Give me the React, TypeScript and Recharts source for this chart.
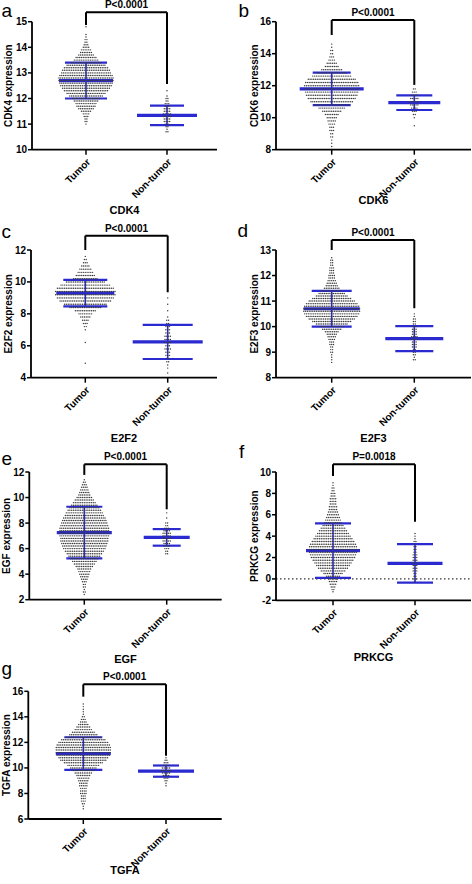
import React from 'react';
import { ScatterChart, Scatter, XAxis, YAxis, ReferenceLine } from 'recharts';

const FONT = '"Liberation Sans", Arial, Helvetica, sans-serif';
const BLUE = '#2a2ad0';
const DOT_STEP = 1.8; // px between neighbouring dots in a swarm row

const groups = ['Tumor', 'Non-tumor'];

// [expression level, number of samples at that level]
const cdk4Tumor: [number, number][] = [
  [14.8, 1], [14.5, 1], [14.4, 1], [14.3, 2], [14.2, 2], [14.1, 3], [14.0, 4], [13.9, 6], [13.8, 7],
  [13.7, 9], [13.6, 12], [13.5, 14], [13.4, 17], [13.3, 22], [13.2, 25], [13.1, 27], [13.0, 28],
  [12.9, 30], [12.8, 31], [12.7, 31], [12.6, 30], [12.5, 29], [12.4, 27], [12.3, 25], [12.2, 22],
  [12.1, 19], [12.0, 16], [11.9, 14], [11.8, 12], [11.7, 11], [11.6, 9], [11.5, 6], [11.4, 4],
  [11.3, 3], [11.2, 2], [11.1, 2], [11.0, 1],
];
const cdk4Normal: [number, number][] = [
  [12.3, 1], [12.1, 1], [12.0, 2], [11.9, 2], [11.8, 3], [11.7, 3], [11.6, 4], [11.5, 4], [11.4, 5],
  [11.3, 5], [11.2, 4], [11.1, 4], [11.0, 3], [10.9, 2], [10.8, 1], [10.7, 2],
];
const cdk4Mean = [12.7, 11.34];
const cdk4Sd = [0.7, 0.38];
const cdk4Bracket = [15.37, 14.87, 12.57];
const cdk4Ticks = [10, 11, 12, 13, 14, 15];

const cdk6Tumor: [number, number][] = [
  [14.6, 1], [14.4, 1], [14.2, 2], [14.0, 2], [13.8, 3], [13.6, 4], [13.4, 6], [13.2, 8], [13.0, 12],
  [12.8, 17], [12.6, 22], [12.4, 27], [12.2, 30], [12.0, 31], [11.8, 31], [11.6, 30], [11.4, 29],
  [11.2, 27], [11.0, 24], [10.8, 20], [10.6, 15], [10.4, 11], [10.2, 8], [10.0, 6], [9.8, 5],
  [9.6, 4], [9.4, 3], [9.2, 3], [9.0, 2], [8.8, 2], [8.6, 1], [8.4, 1], [8.2, 1],
];
const cdk6Normal: [number, number][] = [
  [11.8, 2], [11.6, 3], [11.4, 4], [11.2, 5], [11.0, 6], [10.8, 5], [10.6, 4], [10.4, 3], [10.2, 2],
  [10.0, 1], [9.5, 1],
];
const cdk6Mean = [11.8, 10.94];
const cdk6Sd = [1.02, 0.46];
const cdk6Bracket = [16.1, 15.17, 12.05];
const cdk6Ticks = [8, 10, 12, 14, 16];

const e2f2Tumor: [number, number][] = [
  [11.6, 1], [11.4, 2], [11.2, 3], [11.0, 5], [10.8, 7], [10.6, 9], [10.4, 11], [10.2, 14], [10.0, 22],
  [9.8, 28], [9.6, 32], [9.4, 34], [9.2, 34], [9.0, 32], [8.8, 29], [8.6, 24], [8.4, 18], [8.2, 12],
  [8.0, 8], [7.8, 6], [7.6, 4], [7.4, 3], [7.2, 2], [7.0, 1], [6.2, 1], [4.9, 1],
];
const e2f2Normal: [number, number][] = [
  [9.0, 1], [8.6, 1], [8.2, 1], [7.8, 1], [7.6, 2], [7.4, 2], [7.2, 3], [7.0, 3], [6.8, 3], [6.6, 4],
  [6.4, 4], [6.2, 4], [6.0, 3], [5.8, 4], [5.6, 3], [5.4, 3], [5.2, 2], [5.0, 2], [4.8, 1], [4.6, 1],
  [4.3, 1],
];
const e2f2Mean = [9.3, 6.24];
const e2f2Sd = [0.83, 1.07];
const e2f2Bracket = [12.9, 12.0, 9.35];
const e2f2Ticks = [4, 6, 8, 10, 12];

const e2f3Tumor: [number, number][] = [
  [12.7, 1], [12.6, 2], [12.5, 2], [12.4, 2], [12.3, 3], [12.2, 3], [12.1, 3], [12.0, 4], [11.9, 4],
  [11.8, 5], [11.7, 6], [11.6, 7], [11.5, 9], [11.4, 12], [11.3, 15], [11.2, 18], [11.1, 22],
  [11.0, 26], [10.9, 29], [10.8, 31], [10.7, 32], [10.6, 32], [10.5, 31], [10.4, 29], [10.3, 26],
  [10.2, 22], [10.1, 18], [10.0, 14], [9.9, 11], [9.8, 8], [9.7, 6], [9.6, 5], [9.5, 4], [9.4, 3],
  [9.3, 3], [9.2, 2], [9.1, 2], [9.0, 2], [8.9, 1], [8.8, 1], [8.7, 1], [8.6, 1],
];
const e2f3Normal: [number, number][] = [
  [10.5, 1], [10.4, 1], [10.3, 2], [10.2, 2], [10.1, 2], [10.0, 3], [9.9, 3], [9.8, 3], [9.7, 3],
  [9.6, 4], [9.5, 4], [9.4, 3], [9.3, 3], [9.2, 3], [9.1, 2], [9.0, 2], [8.9, 2], [8.8, 1], [8.7, 2],
];
const e2f3Mean = [10.7, 9.53];
const e2f3Sd = [0.7, 0.49];
const e2f3Bracket = [13.39, 13.0, 10.72];
const e2f3Ticks = [8, 9, 10, 11, 12, 13];

const egfTumor: [number, number][] = [
  [11.4, 1], [11.2, 2], [11.0, 3], [10.8, 4], [10.6, 5], [10.4, 6], [10.2, 7], [10.0, 9], [9.8, 11],
  [9.6, 13], [9.4, 15], [9.2, 17], [9.0, 19], [8.8, 21], [8.6, 22], [8.4, 24], [8.2, 25], [8.0, 26],
  [7.8, 27], [7.6, 28], [7.4, 28], [7.2, 28], [7.0, 28], [6.8, 27], [6.6, 27], [6.4, 26], [6.2, 25],
  [6.0, 24], [5.8, 22], [5.6, 20], [5.4, 18], [5.2, 16], [5.0, 14], [4.8, 12], [4.6, 10], [4.4, 8],
  [4.2, 7], [4.0, 6], [3.8, 5], [3.6, 4], [3.4, 3], [3.2, 2], [3.0, 2], [2.8, 1], [2.6, 2], [2.4, 1],
];
const egfNormal: [number, number][] = [
  [8.8, 1], [8.4, 1], [8.0, 2], [7.8, 2], [7.6, 3], [7.4, 4], [7.2, 5], [7.0, 5], [6.8, 5], [6.6, 5],
  [6.4, 4], [6.2, 4], [6.0, 3], [5.8, 2], [5.6, 2],
];
const egfMean = [7.26, 6.88];
const egfSd = [2.02, 0.65];
const egfBracket = [12.6, 11.77, 9.08];
const egfTicks = [2, 4, 6, 8, 10, 12];

const prkcgTumor: [number, number][] = [
  [9.0, 1], [8.75, 1], [8.5, 2], [8.25, 2], [8.0, 3], [7.75, 3], [7.5, 4], [7.25, 4], [7.0, 4],
  [6.75, 5], [6.5, 5], [6.25, 6], [6.0, 7], [5.75, 8], [5.5, 9], [5.25, 10], [5.0, 12], [4.75, 14],
  [4.5, 16], [4.25, 18], [4.0, 20], [3.75, 22], [3.5, 24], [3.25, 26], [3.0, 27], [2.75, 27],
  [2.5, 27], [2.25, 26], [2.0, 25], [1.75, 23], [1.5, 21], [1.25, 19], [1.0, 17], [0.75, 14],
  [0.5, 11], [0.25, 8], [0.0, 6], [-0.25, 5], [-0.5, 4], [-0.75, 3], [-1.0, 2], [-1.2, 1],
];
const prkcgNormal: [number, number][] = [
  [4.25, 1], [4.0, 1], [3.75, 1], [3.5, 2], [3.25, 1], [3.0, 2], [2.75, 2], [2.5, 2], [2.25, 3],
  [2.0, 3], [1.75, 3], [1.5, 3], [1.25, 3], [1.0, 3], [0.75, 3], [0.5, 2], [0.25, 2], [0.0, 2],
  [-0.25, 1],
];
const prkcgMean = [2.65, 1.45];
const prkcgSd = [2.55, 1.8];
const prkcgBracket = [10.72, 9.63, 5.35];
const prkcgTicks = [-2, 0, 2, 4, 6, 8, 10];

const tgfaTumor: [number, number][] = [
  [15.0, 1], [14.8, 1], [14.6, 1], [14.4, 1], [14.2, 1], [14.0, 2], [13.8, 3], [13.6, 4], [13.4, 6],
  [13.2, 8], [13.0, 10], [12.8, 13], [12.6, 16], [12.4, 20], [12.2, 25], [12.0, 28], [11.8, 30],
  [11.6, 31], [11.4, 31], [11.2, 31], [11.0, 30], [10.8, 28], [10.6, 26], [10.4, 22], [10.2, 18],
  [10.0, 15], [9.8, 12], [9.6, 10], [9.4, 8], [9.2, 7], [9.0, 6], [8.8, 5], [8.6, 5], [8.4, 4],
  [8.2, 4], [8.0, 4], [7.8, 3], [7.6, 3], [7.4, 3], [7.2, 2], [7.0, 1], [6.8, 1],
];
const tgfaNormal: [number, number][] = [
  [10.8, 1], [10.6, 2], [10.4, 3], [10.2, 4], [10.0, 5], [9.8, 6], [9.6, 5], [9.4, 4], [9.2, 3],
  [9.0, 2], [8.8, 1], [8.6, 1],
];
const tgfaMean = [11.12, 9.75];
const tgfaSd = [1.28, 0.44];
const tgfaBracket = [16.55, 15.58, 10.95];
const tgfaTicks = [6, 8, 10, 12, 14, 16];

// pixel layout of each panel (page coordinates)
type Box = {
  ox: number; oy: number; w: number; h: number;
  axisX: number; axisEnd: number; topY: number; botY: number;
  tumorX: number; nonX: number; yLabelX: number;
  meanHalf: number[]; sdHalf: number[];
};

const panels = [
  {
    letter: 'a', lx: 1.5, ly: 16.5, gene: 'CDK4', p: 'P<0.0001', tumor: cdk4Tumor, normal: cdk4Normal,
    mean: cdk4Mean, sd: cdk4Sd, bracket: cdk4Bracket, ticks: cdk4Ticks, zero: false,
    box: { ox: 0, oy: 0, w: 236, h: 217.5, axisX: 32, axisEnd: 217, topY: 21.7, botY: 149.7, tumorX: 86, nonX: 167, yLabelX: 8.3, meanHalf: [27, 30], sdHalf: [21, 17] },
  },
  {
    letter: 'b', lx: 238.5, ly: 16.7, gene: 'CDK6', p: 'P<0.0001', tumor: cdk6Tumor, normal: cdk6Normal,
    mean: cdk6Mean, sd: cdk6Sd, bracket: cdk6Bracket, ticks: cdk6Ticks, zero: false,
    box: { ox: 236, oy: 0, w: 236, h: 207.5, axisX: 276, axisEnd: 471, topY: 21.7, botY: 149.7, tumorX: 331.7, nonX: 414.3, yLabelX: 254.5, meanHalf: [32, 26], sdHalf: [19, 18] },
  },
  {
    letter: 'c', lx: 1.5, ly: 238.3, gene: 'E2F2', p: 'P<0.0001', tumor: e2f2Tumor, normal: e2f2Normal,
    mean: e2f2Mean, sd: e2f2Sd, bracket: e2f2Bracket, ticks: e2f2Ticks, zero: false,
    box: { ox: 0, oy: 220, w: 236, h: 225.5, axisX: 31, axisEnd: 217, topY: 250, botY: 377.7, tumorX: 85.3, nonX: 167.7, yLabelX: 8.3, meanHalf: [29, 35], sdHalf: [22, 25] },
  },
  {
    letter: 'd', lx: 237.5, ly: 236.7, gene: 'E2F3', p: 'P<0.0001', tumor: e2f3Tumor, normal: e2f3Normal,
    mean: e2f3Mean, sd: e2f3Sd, bracket: e2f3Bracket, ticks: e2f3Ticks, zero: false,
    box: { ox: 236, oy: 220, w: 236, h: 226, axisX: 276, axisEnd: 471, topY: 250, botY: 377.7, tumorX: 331.7, nonX: 414.3, yLabelX: 254, meanHalf: [28, 29], sdHalf: [20, 19] },
  },
  {
    letter: 'e', lx: 1.5, ly: 465, gene: 'EGF', p: 'P<0.0001', tumor: egfTumor, normal: egfNormal,
    mean: egfMean, sd: egfSd, bracket: egfBracket, ticks: egfTicks, zero: false,
    box: { ox: 0, oy: 440, w: 236, h: 227, axisX: 29.3, axisEnd: 221.7, topY: 472, botY: 599.7, tumorX: 84.3, nonX: 166.7, yLabelX: 6.7, meanHalf: [27.5, 23], sdHalf: [18, 14] },
  },
  {
    letter: 'f', lx: 239, ly: 458.3, gene: 'PRKCG', p: 'P=0.0018', tumor: prkcgTumor, normal: prkcgNormal,
    mean: prkcgMean, sd: prkcgSd, bracket: prkcgBracket, ticks: prkcgTicks, zero: true,
    box: { ox: 236, oy: 440, w: 236, h: 225, axisX: 276, axisEnd: 471, topY: 472, botY: 600.3, tumorX: 333, nonX: 415, yLabelX: 254.5, meanHalf: [27, 27.5], sdHalf: [18, 18] },
  },
  {
    letter: 'g', lx: 1.5, ly: 675, gene: 'TGFA', p: 'P<0.0001', tumor: tgfaTumor, normal: tgfaNormal,
    mean: tgfaMean, sd: tgfaSd, bracket: tgfaBracket, ticks: tgfaTicks, zero: false,
    box: { ox: 0, oy: 660, w: 236, h: 217.5, axisX: 28.3, axisEnd: 221.7, topY: 691.3, botY: 819, tumorX: 83.3, nonX: 166, yLabelX: 6, meanHalf: [27.5, 28], sdHalf: [19, 13] },
  },
];

function swarm(levels: [number, number][], center: number, ppu: number) {
  const dx = DOT_STEP / ppu;
  const pts: { x: number; y: number }[] = [];
  levels.forEach(([v, n]) => {
    for (let i = 0; i < n; i++) pts.push({ x: center + (i - (n - 1) / 2) * dx, y: v });
  });
  return pts;
}

const Dot = (props: any) => <circle cx={props.cx} cy={props.cy} r={0.72} fill="#3a3a3a" />;

const XTick = (props: any) => {
  const { x, y, payload } = props;
  return (
    <text x={x} y={y} dy="0.71em" transform={`rotate(-45 ${x} ${y})`} textAnchor="end"
      fontSize={10} fontWeight={700} fontFamily={FONT} fill="#000">
      {groups[payload.value - 1]}
    </text>
  );
};

const axisStroke = { stroke: '#000', strokeWidth: 1.8 };
const tickStroke = { stroke: '#000', strokeWidth: 1.5 };

function Panel({ p }: { p: (typeof panels)[number] }) {
  const b = p.box as Box;
  const ppu = b.nonX - b.tumorX;
  const lo = 1 - (b.tumorX - b.axisX) / ppu;
  const hi = 2 + (b.axisEnd - b.nonX) / ppu;
  const yMin = p.ticks[0];
  const yMax = p.ticks[p.ticks.length - 1];
  const margin = { top: b.topY - b.oy, right: b.ox + b.w - b.axisEnd, bottom: 0, left: 0 };

  const bars = [0, 1].map((g) => {
    const c = g + 1;
    const m = p.mean[g];
    const s = p.sd[g];
    const mh = b.meanHalf[g] / ppu;
    const sh = b.sdHalf[g] / ppu;
    return [
      <ReferenceLine key={`v${g}`} segment={[{ x: c, y: m - s }, { x: c, y: m + s }]} stroke={BLUE} strokeWidth={1.6} ifOverflow="visible" />,
      <ReferenceLine key={`u${g}`} segment={[{ x: c - sh, y: m + s }, { x: c + sh, y: m + s }]} stroke={BLUE} strokeWidth={2.2} ifOverflow="visible" />,
      <ReferenceLine key={`l${g}`} segment={[{ x: c - sh, y: m - s }, { x: c + sh, y: m - s }]} stroke={BLUE} strokeWidth={2.2} ifOverflow="visible" />,
      <ReferenceLine key={`m${g}`} segment={[{ x: c - mh, y: m }, { x: c + mh, y: m }]} stroke={BLUE} strokeWidth={3.2} ifOverflow="visible" />,
    ];
  });

  const [top, leftEnd, rightEnd] = p.bracket;

  return (
    <div style={{ position: 'absolute', left: b.ox, top: b.oy }}>
      <ScatterChart width={b.w} height={b.h} margin={margin}>
        <XAxis type="number" dataKey="x" domain={[lo, hi]} ticks={[1, 2]} interval={0} allowDataOverflow
          height={b.oy + b.h - b.botY} tickSize={5} tickMargin={3} axisLine={axisStroke} tickLine={tickStroke}
          tick={<XTick />}
          label={{ value: p.gene, position: 'insideBottom', offset: 4, fill: '#000', fontSize: 11, fontWeight: 700, fontFamily: FONT }} />
        <YAxis type="number" dataKey="y" domain={[yMin, yMax]} ticks={p.ticks} interval={0} allowDataOverflow
          width={b.axisX - b.ox} tickSize={4} tickMargin={1} axisLine={axisStroke} tickLine={tickStroke}
          tick={{ fill: '#000', fontSize: 10, fontWeight: 700, fontFamily: FONT }} />
        {p.zero && <ReferenceLine y={0} stroke="#000" strokeWidth={1} strokeDasharray="1.5 2.5" />}
        <Scatter data={swarm(p.tumor, 1, ppu)} shape={Dot} isAnimationActive={false} />
        <Scatter data={swarm(p.normal, 2, ppu)} shape={Dot} isAnimationActive={false} />
        {bars}
        <ReferenceLine segment={[{ x: 1, y: top }, { x: 1, y: leftEnd }]} stroke="#000" strokeWidth={2} ifOverflow="visible" />
        <ReferenceLine segment={[{ x: 2, y: top }, { x: 2, y: rightEnd }]} stroke="#000" strokeWidth={2} ifOverflow="visible" />
        <ReferenceLine segment={[{ x: 1, y: top }, { x: 2, y: top }]} stroke="#000" strokeWidth={2} ifOverflow="visible"
          label={{ value: p.p, position: 'top', offset: 4, fill: '#000', fontSize: 10, fontWeight: 700, fontFamily: FONT }} />
      </ScatterChart>
    </div>
  );
}

export default function App() {
  return (
    <div style={{ position: 'absolute', left: 0, top: 0, width: 472, height: 884, background: '#fff', fontFamily: FONT }}>
      <svg width={472} height={884} style={{ position: 'absolute', left: 0, top: 0 }}>
        {panels.map((p) => {
          const b = p.box;
          const cy = (b.topY + b.botY) / 2;
          return (
            <g key={p.letter}>
              <text x={p.lx} y={p.ly} fontSize={19} fontFamily={FONT} fill="#000">{p.letter}</text>
              <text x={b.yLabelX} y={cy} dy="0.355em" transform={`rotate(-90 ${b.yLabelX} ${cy})`} textAnchor="middle"
                fontSize={10} fontWeight={700} fontFamily={FONT} fill="#000">
                {`${p.gene} expression`}
              </text>
            </g>
          );
        })}
      </svg>
      {panels.map((p) => <Panel key={p.letter} p={p} />)}
    </div>
  );
}
